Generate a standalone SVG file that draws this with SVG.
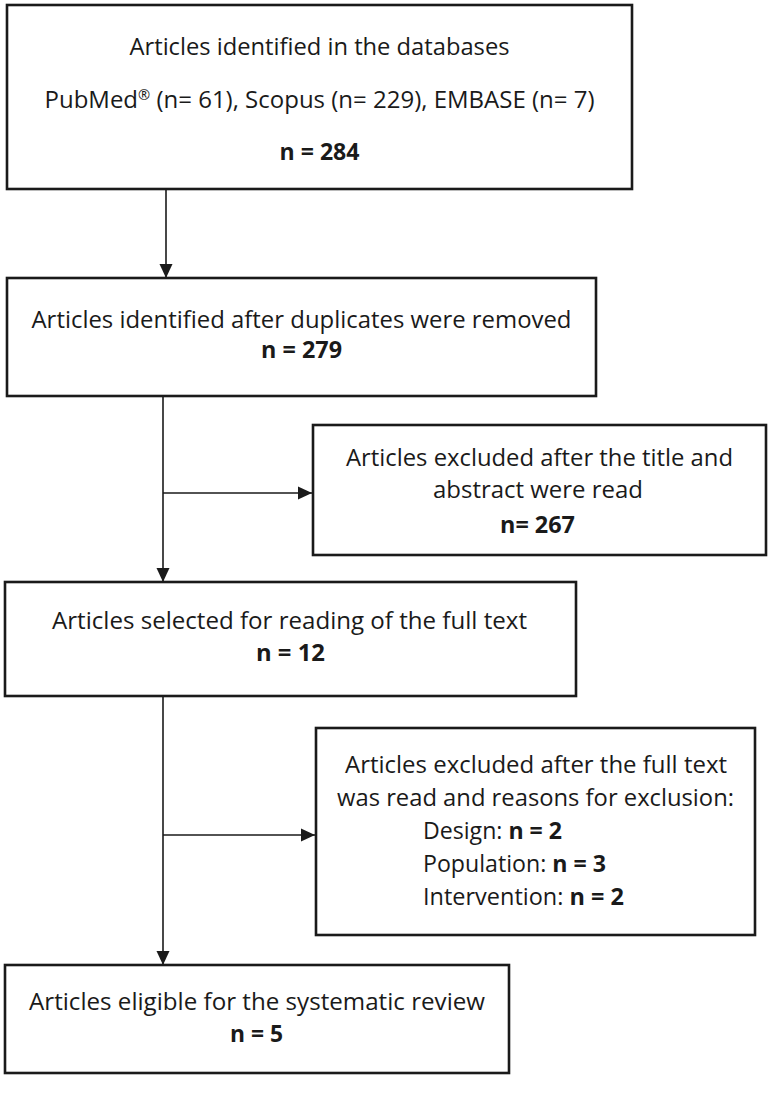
<svg xmlns="http://www.w3.org/2000/svg" width="771" height="1094" viewBox="0 0 771 1094">
  <style>
    .box { fill: #ffffff; stroke: #1a1a1a; stroke-width: 2.6; }
    .t { font-family: "Open Sans", "Liberation Sans", sans-serif; font-size: 23px; fill: #1a1a1a; }
    .c { text-anchor: middle; }
    .b { font-weight: bold; }
    .sup { font-size: 14px; }
    .conn { stroke: #1a1a1a; stroke-width: 1.6; fill: none; }
  </style>
  <defs>
    <marker id="arrow" markerUnits="userSpaceOnUse" markerWidth="14" markerHeight="14" viewBox="0 0 14 14" refX="14" refY="7" orient="auto">
      <path d="M0,0.5 L14,7 L0,13.5 Z" fill="#1a1a1a"/>
    </marker>
  </defs>
  <rect width="771" height="1094" fill="#ffffff"/>

  <g id="connectors">
    <line class="conn" x1="166" y1="189" x2="166" y2="278" marker-end="url(#arrow)"/>
    <line class="conn" x1="163" y1="396" x2="163" y2="582" marker-end="url(#arrow)"/>
    <line class="conn" x1="163" y1="493" x2="312" y2="493" marker-end="url(#arrow)"/>
    <line class="conn" x1="163" y1="696" x2="163" y2="965" marker-end="url(#arrow)"/>
    <line class="conn" x1="163" y1="835" x2="315" y2="835" marker-end="url(#arrow)"/>
  </g>

  <g id="node-identified">
    <rect class="box" x="7" y="5" width="625" height="184"/>
    <text class="t c" x="319.5" y="55" textLength="380" lengthAdjust="spacingAndGlyphs">Articles identified in the databases</text>
    <text class="t c" x="319.5" y="108" textLength="550" lengthAdjust="spacingAndGlyphs">PubMed<tspan class="sup" dy="-8">®</tspan><tspan dy="8"> (n= 61), Scopus (n= 229), EMBASE (n= 7)</tspan></text>
    <text class="t c b" x="319.5" y="160" textLength="80" lengthAdjust="spacingAndGlyphs">n = 284</text>
  </g>

  <g id="node-deduplicated">
    <rect class="box" x="7" y="278" width="589" height="118"/>
    <text class="t c" x="301.5" y="328" textLength="540" lengthAdjust="spacingAndGlyphs">Articles identified after duplicates were removed</text>
    <text class="t c b" x="301.5" y="358" textLength="81" lengthAdjust="spacingAndGlyphs">n = 279</text>
  </g>

  <g id="node-excluded-title">
    <rect class="box" x="313" y="425" width="453" height="130"/>
    <text class="t c" x="539.5" y="466" textLength="387" lengthAdjust="spacingAndGlyphs">Articles excluded after the title and</text>
    <text class="t c" x="538" y="498" textLength="210" lengthAdjust="spacingAndGlyphs">abstract were read</text>
    <text class="t c b" x="537.5" y="533" textLength="75" lengthAdjust="spacingAndGlyphs">n= 267</text>
  </g>

  <g id="node-fulltext">
    <rect class="box" x="5" y="582" width="571" height="114"/>
    <text class="t c" x="289.5" y="629" textLength="475" lengthAdjust="spacingAndGlyphs">Articles selected for reading of the full text</text>
    <text class="t c b" x="290.5" y="661" textLength="69" lengthAdjust="spacingAndGlyphs">n = 12</text>
  </g>

  <g id="node-excluded-fulltext">
    <rect class="box" x="316" y="728" width="439" height="207"/>
    <text class="t c" x="536" y="773" textLength="382" lengthAdjust="spacingAndGlyphs">Articles excluded after the full text</text>
    <text class="t c" x="535.5" y="806" textLength="397" lengthAdjust="spacingAndGlyphs">was read and reasons for exclusion:</text>
    <text class="t" x="423" y="839" textLength="139" lengthAdjust="spacingAndGlyphs">Design: <tspan class="b">n = 2</tspan></text>
    <text class="t" x="423" y="872" textLength="183" lengthAdjust="spacingAndGlyphs">Population: <tspan class="b">n = 3</tspan></text>
    <text class="t" x="423" y="905" textLength="201" lengthAdjust="spacingAndGlyphs">Intervention: <tspan class="b">n = 2</tspan></text>
  </g>

  <g id="node-eligible">
    <rect class="box" x="5" y="965" width="504" height="108"/>
    <text class="t c" x="257" y="1010" textLength="456" lengthAdjust="spacingAndGlyphs">Articles eligible for the systematic review</text>
    <text class="t c b" x="256.5" y="1042" textLength="53" lengthAdjust="spacingAndGlyphs">n = 5</text>
  </g>
</svg>
